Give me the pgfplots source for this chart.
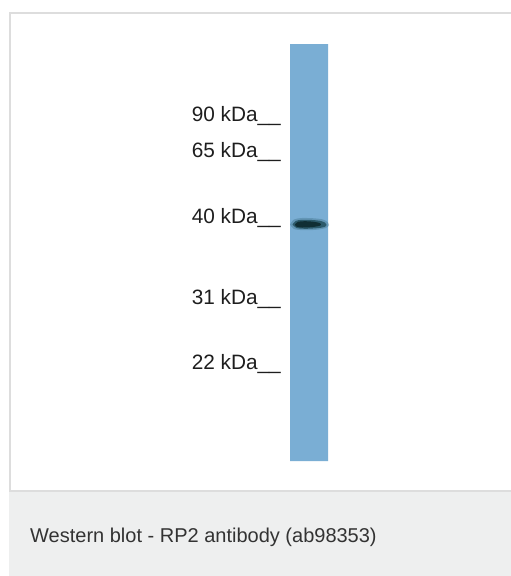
\documentclass[border=0pt]{standalone}
\usepackage{fontspec}
\setmainfont{Liberation Sans}
\usepackage{pgfplots}
\pgfplotsset{compat=1.18}

\definecolor{lane}{RGB}{122,174,212}
\definecolor{bandhalo}{RGB}{70,120,145}
\definecolor{bandouter}{RGB}{35,80,95}
\definecolor{bandcore}{RGB}{16,46,52}
\definecolor{framegray}{RGB}{221,221,221}
\definecolor{capgray}{RGB}{238,239,239}
\definecolor{labeltext}{RGB}{30,30,30}
\definecolor{captext}{RGB}{51,51,51}

\begin{document}
\begin{tikzpicture}
\begin{axis}[
  x=1pt, y=1pt,
  xmin=0, xmax=511,
  ymin=0, ymax=576,
  y dir=reverse,
  axis lines=none,
  ticks=none,
  clip=true,
]
% page background
\addplot[fill=white, draw=none] coordinates {(0,0) (511,0) (511,576) (0,576) (0,0)};

% caption panel
\addplot[fill=capgray, draw=none] coordinates {(9,491) (511,491) (511,576) (9,576) (9,491)};
\addplot[framegray, line width=1.5pt] coordinates {(9,491) (511,491)};

% outer frame (left and top edges)
\addplot[framegray, line width=2pt] coordinates {(10,491) (10,13) (511,13)};

% lane
\addplot[fill=lane, draw=none] coordinates {(290,44) (328,44) (328,461) (290,461) (290,44)};

% band at ~40 kDa
\addplot[fill=bandhalo, draw=none, smooth, opacity=0.45] coordinates {
(290,224.5) (294,219.5) (302,218) (314,218.3) (323,219.5) (328,222.5) (329,225)
(326,228) (316,229.8) (303,230.2) (294,229) (290,224.5)};
\addplot[fill=bandouter, draw=none, smooth, opacity=0.85] coordinates {
(292.5,224.5) (295.5,221) (302,219.8) (312,220) (320,220.8) (325,222.6) (326.5,224.8)
(324.5,227) (317,228.2) (305,228.8) (296.5,228) (292.5,224.5)};
\addplot[fill=bandcore, draw=none, smooth] coordinates {
(295,224.5) (298,221.8) (305,221.2) (314,221.8) (320,223.2) (320.5,225.4)
(313,227) (302,227.5) (296.5,226.6) (295,224.5)};

% marker labels
\node[anchor=base east, font=\fontsize{20.8}{24}\selectfont, text=labeltext, inner sep=0pt]
  at (axis cs:281,121) {90 kDa\_\_};
\node[anchor=base east, font=\fontsize{20.8}{24}\selectfont, text=labeltext, inner sep=0pt]
  at (axis cs:281,157) {65 kDa\_\_};
\node[anchor=base east, font=\fontsize{20.8}{24}\selectfont, text=labeltext, inner sep=0pt]
  at (axis cs:281,223) {40 kDa\_\_};
\node[anchor=base east, font=\fontsize{20.8}{24}\selectfont, text=labeltext, inner sep=0pt]
  at (axis cs:281,304) {31 kDa\_\_};
\node[anchor=base east, font=\fontsize{20.8}{24}\selectfont, text=labeltext, inner sep=0pt]
  at (axis cs:281,369) {22 kDa\_\_};

% caption
\node[anchor=base west, font=\fontsize{20}{24}\selectfont, text=captext, inner sep=0pt]
  at (axis cs:30,542) {Western blot - RP2 antibody (ab98353)};
\end{axis}
\end{tikzpicture}
\end{document}
